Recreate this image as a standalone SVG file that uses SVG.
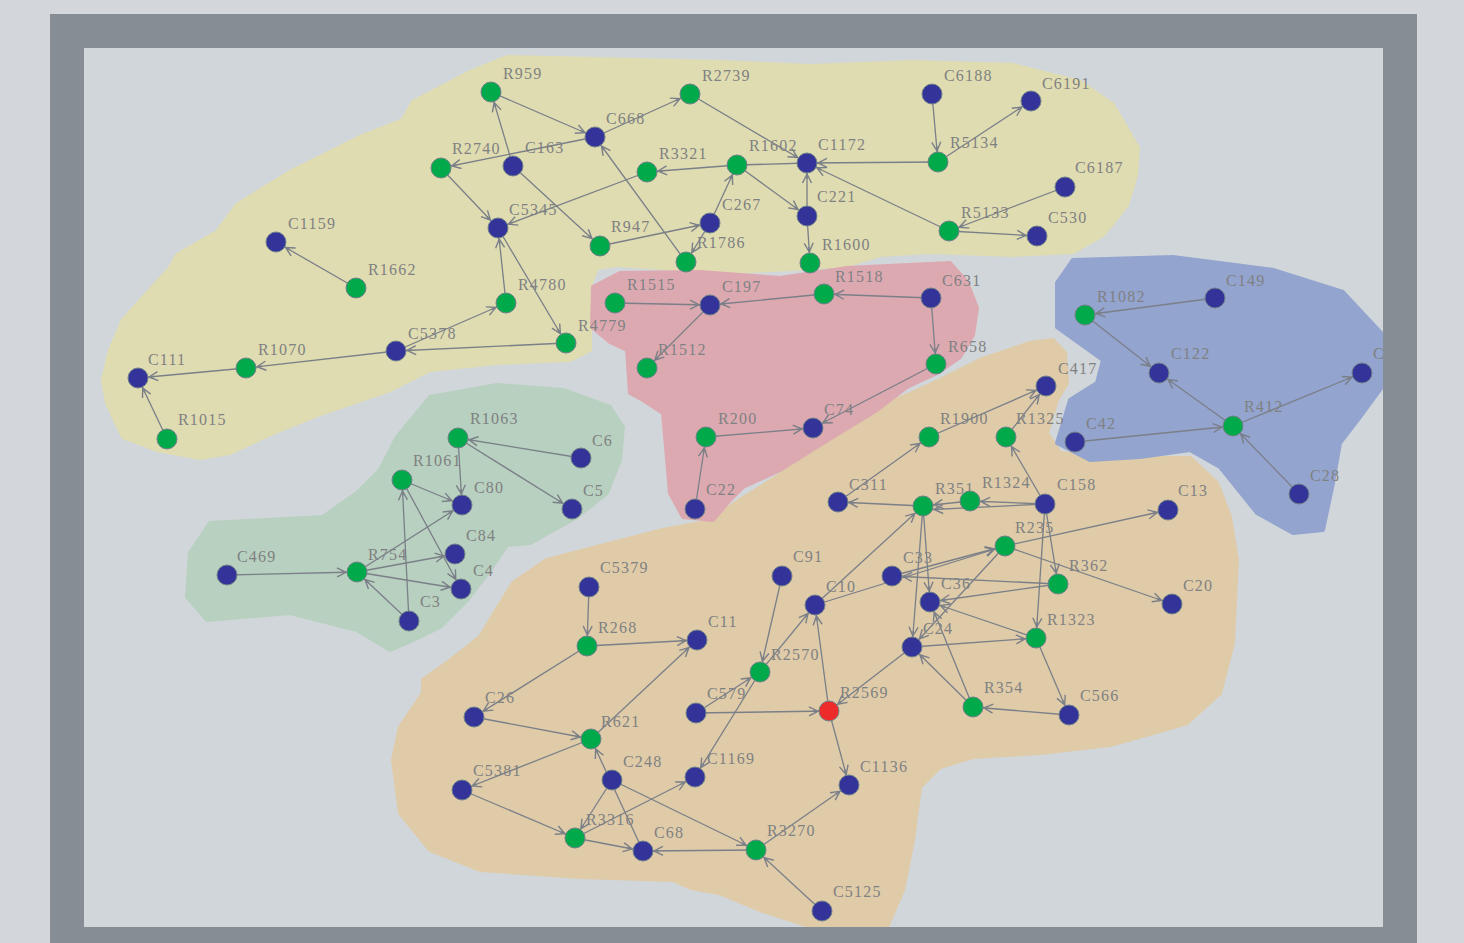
<svg xmlns="http://www.w3.org/2000/svg" width="1464" height="943" viewBox="0 0 1464 943">
<style>
.region{stroke-width:4;stroke-linejoin:round}
#connectors line{stroke:#7a7f88;stroke-width:1.3;marker-end:url(#arr)}
#connectors line.na{marker-end:none}
circle{r:10;stroke:#6f8088;stroke-width:1}
.b{fill:#333399}.g{fill:#00aa4a}.r{fill:#ee2b2b}
text{font-family:"Liberation Serif",serif;font-size:16px;letter-spacing:1.2px;fill:#7f8182}
</style>
<defs>
<marker id="arr" viewBox="-22 -6 22 12" markerWidth="22" markerHeight="12" refX="0" refY="0" orient="auto" markerUnits="userSpaceOnUse">
<path d="M-20,-4.5 L-11,0 L-20,4.5 M-11,0 L-16,0" fill="none" stroke="#7a7f88" stroke-width="1.4"/>
</marker>
<clipPath id="inner"><rect x="84" y="48" width="1299" height="879"/></clipPath>
</defs>
<rect x="0" y="0" width="1464" height="943" fill="#d3d7db"/>
<rect x="50" y="14" width="1367" height="929" fill="#878d94"/>
<rect x="84" y="48" width="1299" height="879" fill="#d1d6da"/>
<g clip-path="url(#inner)">
<g id="regions">
<path class="region" fill="#dfdcb1" stroke="#dfdcb1" d="M470,72 L507,57 L720,62 L810,66 L913,62 L1013,65 L1080,82 L1113,105 L1138,148 L1136,175 L1127,205 L1103,235 L1073,252 L1013,255 L930,252 L880,255 L847,265 L810,268 L730,272 L663,268 L617,265 L597,268 L590,285 L590,350 L570,360 L497,363 L430,370 L390,390 L323,413 L273,433 L230,453 L200,458 L157,450 L123,437 L107,403 L103,380 L110,350 L123,320 L170,268 L177,255 L217,232 L237,205 L290,172 L360,137 L403,120 L413,102 Z"/>
<path class="region" fill="#b8d0bf" stroke="#b8d0bf" d="M430,397 L497,385 L563,390 L610,407 L623,427 L620,460 L607,493 L577,517 L530,543 L507,545 L490,570 L467,600 L440,627 L407,643 L390,650 L357,630 L290,613 L207,620 L187,597 L190,553 L210,523 L323,517 L337,507 L357,493 L380,470 L397,437 Z"/>
<path class="region" fill="#dfcba8" stroke="#dfcba8" d="M547,560 L597,547 L663,530 L707,522 L745,497 L780,475 L873,410 L930,385 L980,360 L1030,343 L1053,340 L1065,353 L1067,383 L1057,400 L1047,433 L1060,453 L1107,458 L1190,458 L1217,483 L1230,517 L1237,560 L1233,643 L1220,693 L1187,723 L1153,733 L1110,745 L1040,753 L973,757 L940,767 L920,787 L913,840 L903,890 L887,927 L812,927 L760,910 L719,893 L691,888 L673,880 L580,877 L480,870 L430,850 L400,813 L393,760 L400,727 L423,693 L423,680 L447,663 L480,637 L513,583 Z"/>
<path class="region" fill="#dda9b1" stroke="#dda9b1" d="M620,273 L700,272 L780,278 L847,268 L950,263 L967,282 L977,308 L973,335 L960,357 L937,373 L907,387 L877,410 L823,443 L780,470 L743,487 L730,500 L713,520 L683,517 L670,493 L663,413 L643,400 L630,393 L627,350 L610,342 L592,327 L593,287 Z"/>
<path class="region" fill="#93a4cf" stroke="#93a4cf" d="M1073,260 L1173,257 L1273,270 L1343,292 L1385,337 L1385,383 L1360,417 L1340,443 L1333,483 L1323,530 L1293,533 L1257,513 L1220,467 L1190,450 L1140,457 L1090,460 L1057,443 L1070,400 L1097,383 L1103,360 L1057,327 L1057,283 Z"/>
</g>
<g id="connectors">
<line x1="491" y1="92" x2="595" y2="137"/>
<line x1="513" y1="166" x2="491" y2="92"/>
<line x1="595" y1="137" x2="441" y2="168"/>
<line x1="595" y1="137" x2="690" y2="94"/>
<line x1="690" y1="94" x2="807" y2="163"/>
<line x1="441" y1="168" x2="498" y2="228"/>
<line x1="513" y1="166" x2="600" y2="246"/>
<line x1="647" y1="172" x2="498" y2="228"/>
<line x1="737" y1="165" x2="647" y2="172"/>
<line class="na" x1="737" y1="165" x2="807" y2="163"/>
<line x1="737" y1="165" x2="807" y2="216"/>
<line x1="710" y1="223" x2="737" y2="165"/>
<line x1="600" y1="246" x2="710" y2="223"/>
<line x1="710" y1="223" x2="686" y2="262"/>
<line x1="686" y1="262" x2="595" y2="137"/>
<line x1="807" y1="216" x2="807" y2="163"/>
<line x1="807" y1="216" x2="810" y2="263"/>
<line x1="938" y1="162" x2="807" y2="163"/>
<line x1="932" y1="94" x2="938" y2="162"/>
<line x1="938" y1="162" x2="1031" y2="101"/>
<line x1="949" y1="231" x2="807" y2="163"/>
<line x1="1065" y1="187" x2="949" y2="231"/>
<line x1="949" y1="231" x2="1037" y2="236"/>
<line x1="356" y1="288" x2="276" y2="242"/>
<line x1="396" y1="351" x2="506" y2="303"/>
<line x1="506" y1="303" x2="498" y2="228"/>
<line x1="498" y1="228" x2="566" y2="343"/>
<line x1="566" y1="343" x2="396" y2="351"/>
<line x1="396" y1="351" x2="246" y2="368"/>
<line x1="246" y1="368" x2="138" y2="378"/>
<line x1="167" y1="439" x2="138" y2="378"/>
<line x1="615" y1="303" x2="710" y2="305"/>
<line x1="824" y1="294" x2="710" y2="305"/>
<line x1="931" y1="298" x2="824" y2="294"/>
<line x1="710" y1="305" x2="647" y2="368"/>
<line x1="931" y1="298" x2="936" y2="364"/>
<line x1="936" y1="364" x2="813" y2="428"/>
<line x1="706" y1="437" x2="813" y2="428"/>
<line x1="695" y1="509" x2="706" y2="437"/>
<line x1="581" y1="458" x2="458" y2="438"/>
<line x1="458" y1="438" x2="462" y2="505"/>
<line x1="458" y1="438" x2="572" y2="509"/>
<line x1="402" y1="480" x2="462" y2="505"/>
<line x1="357" y1="572" x2="462" y2="505"/>
<line x1="357" y1="572" x2="455" y2="554"/>
<line x1="357" y1="572" x2="461" y2="589"/>
<line x1="402" y1="480" x2="461" y2="589"/>
<line x1="409" y1="621" x2="402" y2="480"/>
<line x1="409" y1="621" x2="357" y2="572"/>
<line x1="227" y1="575" x2="357" y2="572"/>
<line x1="1215" y1="298" x2="1085" y2="315"/>
<line x1="1085" y1="315" x2="1159" y2="373"/>
<line x1="1233" y1="426" x2="1159" y2="373"/>
<line x1="1233" y1="426" x2="1362" y2="373"/>
<line x1="1075" y1="442" x2="1233" y2="426"/>
<line x1="1299" y1="494" x2="1233" y2="426"/>
<line x1="929" y1="437" x2="1046" y2="386"/>
<line x1="1006" y1="437" x2="1046" y2="386"/>
<line x1="838" y1="502" x2="929" y2="437"/>
<line x1="923" y1="506" x2="838" y2="502"/>
<line x1="970" y1="501" x2="923" y2="506"/>
<line x1="1045" y1="504" x2="923" y2="510"/>
<line x1="1045" y1="504" x2="970" y2="501"/>
<line x1="1045" y1="504" x2="1006" y2="437"/>
<line x1="1045" y1="504" x2="1058" y2="584"/>
<line x1="1045" y1="504" x2="1036" y2="638"/>
<line x1="1005" y1="546" x2="1168" y2="510"/>
<line x1="1005" y1="546" x2="1172" y2="604"/>
<line x1="892" y1="576" x2="1005" y2="546"/>
<line x1="815" y1="605" x2="1005" y2="546"/>
<line x1="1058" y1="584" x2="892" y2="576"/>
<line x1="1058" y1="584" x2="930" y2="602"/>
<line x1="973" y1="707" x2="930" y2="602"/>
<line x1="973" y1="707" x2="912" y2="647"/>
<line x1="912" y1="647" x2="829" y2="711"/>
<line x1="912" y1="647" x2="1036" y2="638"/>
<line x1="1036" y1="638" x2="930" y2="602"/>
<line x1="923" y1="506" x2="930" y2="602"/>
<line x1="923" y1="506" x2="912" y2="647"/>
<line x1="815" y1="605" x2="923" y2="506"/>
<line x1="760" y1="672" x2="815" y2="605"/>
<line x1="782" y1="576" x2="760" y2="672"/>
<line x1="829" y1="711" x2="815" y2="605"/>
<line x1="829" y1="711" x2="849" y2="785"/>
<line x1="696" y1="713" x2="829" y2="711"/>
<line x1="696" y1="713" x2="760" y2="672"/>
<line x1="760" y1="672" x2="695" y2="777"/>
<line x1="575" y1="838" x2="695" y2="777"/>
<line x1="756" y1="850" x2="849" y2="785"/>
<line x1="822" y1="911" x2="756" y2="850"/>
<line x1="756" y1="850" x2="643" y2="851"/>
<line x1="612" y1="780" x2="756" y2="850"/>
<line x1="612" y1="780" x2="575" y2="838"/>
<line x1="643" y1="851" x2="591" y2="739"/>
<line x1="575" y1="838" x2="643" y2="851"/>
<line x1="462" y1="790" x2="575" y2="838"/>
<line x1="591" y1="739" x2="462" y2="790"/>
<line x1="474" y1="717" x2="591" y2="739"/>
<line x1="587" y1="646" x2="474" y2="717"/>
<line x1="591" y1="739" x2="697" y2="640"/>
<line x1="587" y1="646" x2="697" y2="640"/>
<line x1="589" y1="587" x2="587" y2="646"/>
<line x1="1069" y1="715" x2="973" y2="707"/>
<line x1="1036" y1="638" x2="1069" y2="715"/>
<line x1="1005" y1="546" x2="912" y2="647"/>
</g>
<g id="nodes">
<g id="R959"><circle class="g" cx="491" cy="92"/><text x="503" y="79">R959</text></g>
<g id="R2739"><circle class="g" cx="690" cy="94"/><text x="702" y="81">R2739</text></g>
<g id="C668"><circle class="b" cx="595" cy="137"/><text x="606" y="124">C668</text></g>
<g id="C6188"><circle class="b" cx="932" cy="94"/><text x="944" y="81">C6188</text></g>
<g id="C6191"><circle class="b" cx="1031" cy="101"/><text x="1042" y="89">C6191</text></g>
<g id="R2740"><circle class="g" cx="441" cy="168"/><text x="452" y="154">R2740</text></g>
<g id="C163"><circle class="b" cx="513" cy="166"/><text x="525" y="153">C163</text></g>
<g id="R3321"><circle class="g" cx="647" cy="172"/><text x="659" y="159">R3321</text></g>
<g id="R1602"><circle class="g" cx="737" cy="165"/><text x="749" y="151">R1602</text></g>
<g id="C1172"><circle class="b" cx="807" cy="163"/><text x="818" y="150">C1172</text></g>
<g id="R5134"><circle class="g" cx="938" cy="162"/><text x="950" y="148">R5134</text></g>
<g id="C6187"><circle class="b" cx="1065" cy="187"/><text x="1075" y="173">C6187</text></g>
<g id="C1159"><circle class="b" cx="276" cy="242"/><text x="288" y="229">C1159</text></g>
<g id="C5345"><circle class="b" cx="498" cy="228"/><text x="509" y="215">C5345</text></g>
<g id="C267"><circle class="b" cx="710" cy="223"/><text x="722" y="210">C267</text></g>
<g id="C221"><circle class="b" cx="807" cy="216"/><text x="817" y="202">C221</text></g>
<g id="R5133"><circle class="g" cx="949" cy="231"/><text x="961" y="218">R5133</text></g>
<g id="C530"><circle class="b" cx="1037" cy="236"/><text x="1048" y="223">C530</text></g>
<g id="R947"><circle class="g" cx="600" cy="246"/><text x="611" y="232">R947</text></g>
<g id="R1786"><circle class="g" cx="686" cy="262"/><text x="697" y="248">R1786</text></g>
<g id="R1600"><circle class="g" cx="810" cy="263"/><text x="822" y="250">R1600</text></g>
<g id="R1662"><circle class="g" cx="356" cy="288"/><text x="368" y="275">R1662</text></g>
<g id="R4780"><circle class="g" cx="506" cy="303"/><text x="518" y="290">R4780</text></g>
<g id="R4779"><circle class="g" cx="566" cy="343"/><text x="578" y="331">R4779</text></g>
<g id="C5378"><circle class="b" cx="396" cy="351"/><text x="408" y="339">C5378</text></g>
<g id="R1070"><circle class="g" cx="246" cy="368"/><text x="258" y="355">R1070</text></g>
<g id="C111"><circle class="b" cx="138" cy="378"/><text x="148" y="365">C111</text></g>
<g id="R1015"><circle class="g" cx="167" cy="439"/><text x="178" y="425">R1015</text></g>
<g id="R1515"><circle class="g" cx="615" cy="303"/><text x="627" y="290">R1515</text></g>
<g id="C197"><circle class="b" cx="710" cy="305"/><text x="722" y="292">C197</text></g>
<g id="R1518"><circle class="g" cx="824" cy="294"/><text x="835" y="282">R1518</text></g>
<g id="C631"><circle class="b" cx="931" cy="298"/><text x="942" y="286">C631</text></g>
<g id="R1512"><circle class="g" cx="647" cy="368"/><text x="658" y="355">R1512</text></g>
<g id="R658"><circle class="g" cx="936" cy="364"/><text x="948" y="352">R658</text></g>
<g id="C74"><circle class="b" cx="813" cy="428"/><text x="824" y="415">C74</text></g>
<g id="R200"><circle class="g" cx="706" cy="437"/><text x="718" y="424">R200</text></g>
<g id="C22"><circle class="b" cx="695" cy="509"/><text x="706" y="495">C22</text></g>
<g id="R1063"><circle class="g" cx="458" cy="438"/><text x="470" y="424">R1063</text></g>
<g id="C6"><circle class="b" cx="581" cy="458"/><text x="592" y="446">C6</text></g>
<g id="R1061"><circle class="g" cx="402" cy="480"/><text x="413" y="466">R1061</text></g>
<g id="C80"><circle class="b" cx="462" cy="505"/><text x="474" y="493">C80</text></g>
<g id="C5"><circle class="b" cx="572" cy="509"/><text x="583" y="496">C5</text></g>
<g id="C84"><circle class="b" cx="455" cy="554"/><text x="466" y="541">C84</text></g>
<g id="R754"><circle class="g" cx="357" cy="572"/><text x="368" y="560">R754</text></g>
<g id="C4"><circle class="b" cx="461" cy="589"/><text x="473" y="576">C4</text></g>
<g id="C469"><circle class="b" cx="227" cy="575"/><text x="237" y="562">C469</text></g>
<g id="C3"><circle class="b" cx="409" cy="621"/><text x="420" y="607">C3</text></g>
<g id="R1082"><circle class="g" cx="1085" cy="315"/><text x="1097" y="302">R1082</text></g>
<g id="C149"><circle class="b" cx="1215" cy="298"/><text x="1226" y="286">C149</text></g>
<g id="C122"><circle class="b" cx="1159" cy="373"/><text x="1171" y="359">C122</text></g>
<g id="Cx"><circle class="b" cx="1362" cy="373"/><text x="1373" y="359">C</text></g>
<g id="R412"><circle class="g" cx="1233" cy="426"/><text x="1244" y="412">R412</text></g>
<g id="C42"><circle class="b" cx="1075" cy="442"/><text x="1086" y="429">C42</text></g>
<g id="C28"><circle class="b" cx="1299" cy="494"/><text x="1310" y="481">C28</text></g>
<g id="C417"><circle class="b" cx="1046" cy="386"/><text x="1058" y="374">C417</text></g>
<g id="R1900"><circle class="g" cx="929" cy="437"/><text x="940" y="424">R1900</text></g>
<g id="R1325"><circle class="g" cx="1006" cy="437"/><text x="1016" y="424">R1325</text></g>
<g id="C311"><circle class="b" cx="838" cy="502"/><text x="849" y="490">C311</text></g>
<g id="R351"><circle class="g" cx="923" cy="506"/><text x="935" y="494">R351</text></g>
<g id="R1324"><circle class="g" cx="970" cy="501"/><text x="982" y="488">R1324</text></g>
<g id="C158"><circle class="b" cx="1045" cy="504"/><text x="1057" y="490">C158</text></g>
<g id="C13"><circle class="b" cx="1168" cy="510"/><text x="1178" y="496">C13</text></g>
<g id="R235"><circle class="g" cx="1005" cy="546"/><text x="1015" y="533">R235</text></g>
<g id="C91"><circle class="b" cx="782" cy="576"/><text x="793" y="562">C91</text></g>
<g id="C33"><circle class="b" cx="892" cy="576"/><text x="903" y="563">C33</text></g>
<g id="R362"><circle class="g" cx="1058" cy="584"/><text x="1069" y="571">R362</text></g>
<g id="C5379"><circle class="b" cx="589" cy="587"/><text x="600" y="573">C5379</text></g>
<g id="C36"><circle class="b" cx="930" cy="602"/><text x="941" y="589">C36</text></g>
<g id="C20"><circle class="b" cx="1172" cy="604"/><text x="1183" y="591">C20</text></g>
<g id="C10"><circle class="b" cx="815" cy="605"/><text x="826" y="592">C10</text></g>
<g id="R268"><circle class="g" cx="587" cy="646"/><text x="598" y="633">R268</text></g>
<g id="C11"><circle class="b" cx="697" cy="640"/><text x="708" y="627">C11</text></g>
<g id="R1323"><circle class="g" cx="1036" cy="638"/><text x="1047" y="625">R1323</text></g>
<g id="C24"><circle class="b" cx="912" cy="647"/><text x="923" y="634">C24</text></g>
<g id="R2570"><circle class="g" cx="760" cy="672"/><text x="771" y="660">R2570</text></g>
<g id="R354"><circle class="g" cx="973" cy="707"/><text x="984" y="693">R354</text></g>
<g id="C566"><circle class="b" cx="1069" cy="715"/><text x="1080" y="701">C566</text></g>
<g id="C26"><circle class="b" cx="474" cy="717"/><text x="485" y="703">C26</text></g>
<g id="C579"><circle class="b" cx="696" cy="713"/><text x="707" y="699">C579</text></g>
<g id="R2569"><circle class="r" cx="829" cy="711"/><text x="840" y="698">R2569</text></g>
<g id="R621"><circle class="g" cx="591" cy="739"/><text x="601" y="727">R621</text></g>
<g id="C248"><circle class="b" cx="612" cy="780"/><text x="623" y="767">C248</text></g>
<g id="C1169"><circle class="b" cx="695" cy="777"/><text x="707" y="764">C1169</text></g>
<g id="C5381"><circle class="b" cx="462" cy="790"/><text x="473" y="776">C5381</text></g>
<g id="C1136"><circle class="b" cx="849" cy="785"/><text x="860" y="772">C1136</text></g>
<g id="R3316"><circle class="g" cx="575" cy="838"/><text x="586" y="825">R3316</text></g>
<g id="C68"><circle class="b" cx="643" cy="851"/><text x="654" y="838">C68</text></g>
<g id="R3270"><circle class="g" cx="756" cy="850"/><text x="767" y="836">R3270</text></g>
<g id="C5125"><circle class="b" cx="822" cy="911"/><text x="833" y="897">C5125</text></g>
</g>
</g>
</svg>
